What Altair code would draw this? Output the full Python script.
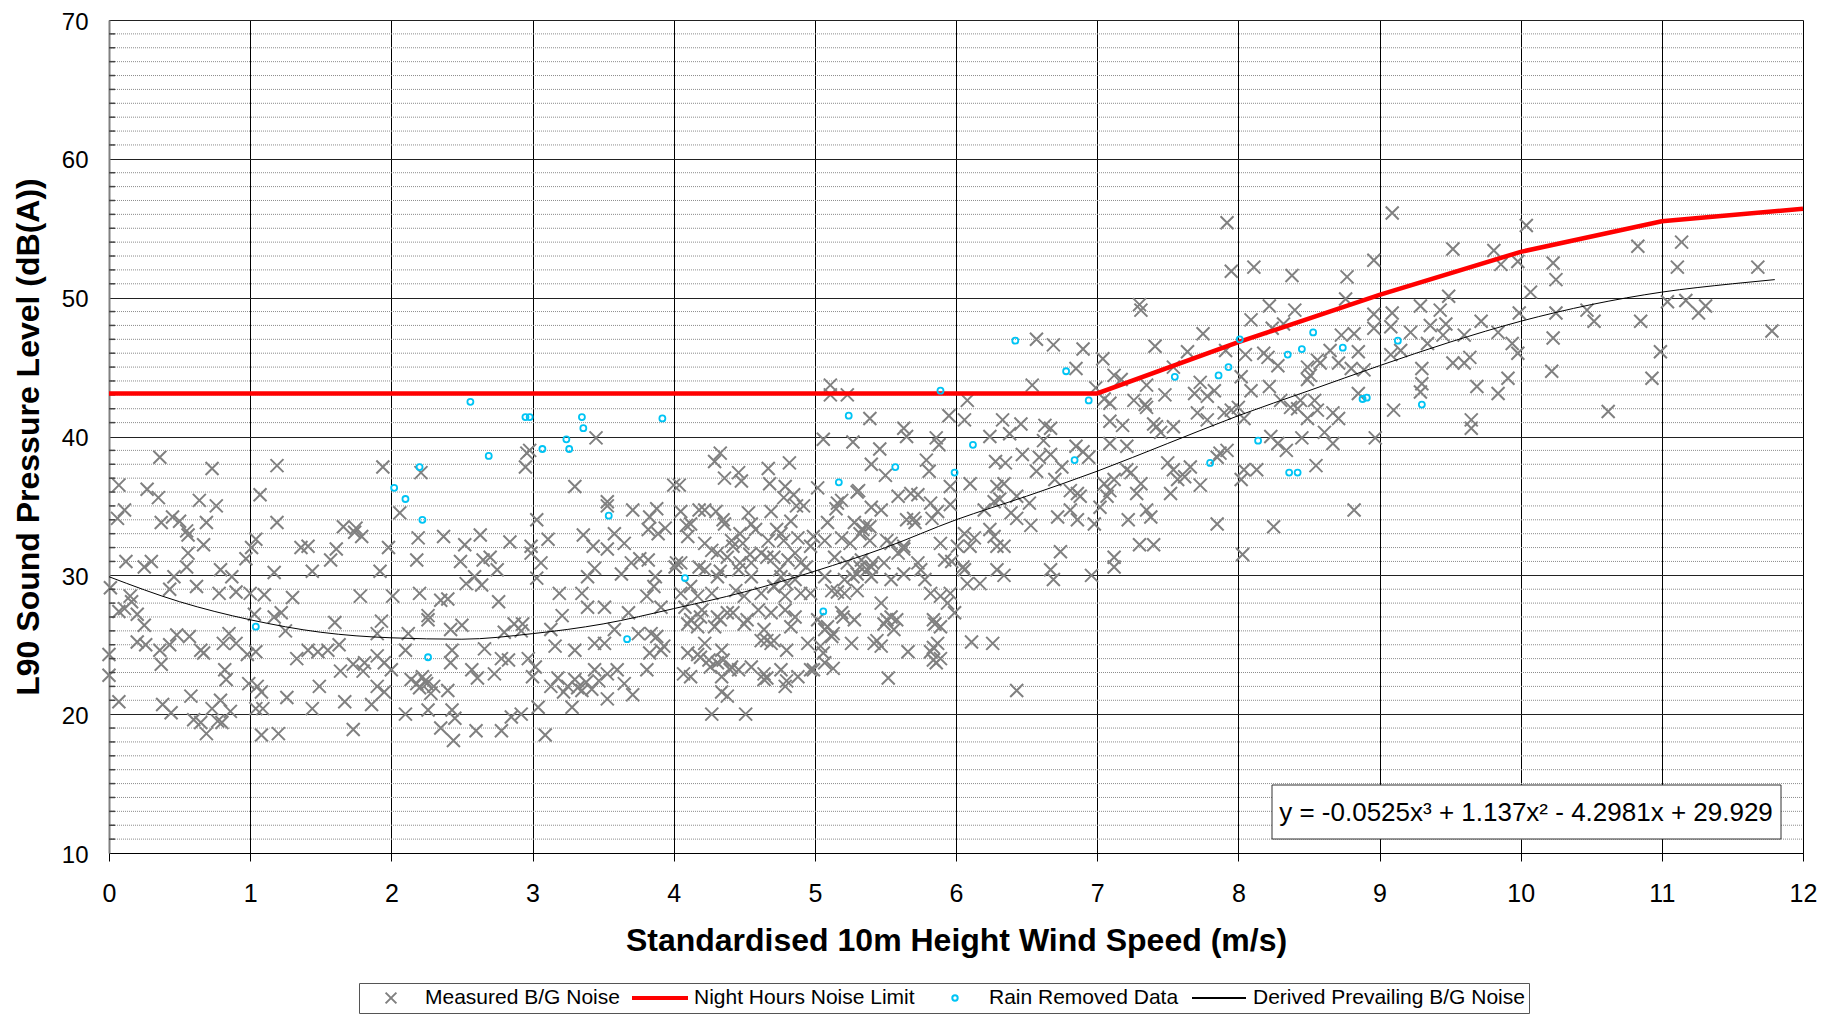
import altair as alt
import pandas as pd

S_MEAS = "Measured B/G Noise"
S_LIM = "Night Hours Noise Limit"
S_RAIN = "Rain Removed Data"
S_FIT = "Derived Prevailing B/G Noise"
SERIES = [S_MEAS, S_LIM, S_RAIN, S_FIT]

# Measured B/G noise: (wind speed m/s, L90 dB(A)) pairs
meas = [
    0.36,38.5, 0.73,37.7, 1.19,37.9, 1.94,37.8, 0.07,36.5, 0.27,36.2, 0.35,35.6, 1.07,35.8, 0.64,35.4, 0.76,35.0,
    0.11,34.7, 0.06,34.1, 0.45,34.2, 0.50,33.9, 0.37,33.8, 0.69,33.8, 1.19,33.8, 0.55,33.2, 0.56,32.9, 1.66,33.5,
    1.75,33.4, 1.79,32.8, 1.74,33.1, 1.04,32.6, 0.67,32.2, 1.36,32.0, 1.41,32.1, 1.61,31.9, 1.57,31.1, 1.01,32.0,
    0.97,31.2, 0.56,31.6, 1.98,32.0, 0.12,31.0, 0.25,30.6, 0.30,31.0, 0.55,30.6, 0.79,30.4, 0.87,29.9, 1.17,30.2,
    1.44,30.3, 1.92,30.3, 0.46,29.9, 0.43,29.0, 0.62,29.2, 0.01,29.1, 0.15,28.5, 0.16,28.1, 0.07,27.4, 0.11,27.6,
    0.20,27.2, 0.25,26.4, 0.78,28.7, 0.90,28.8, 1.00,28.7, 1.10,28.6, 1.30,28.4, 1.78,28.5, 2.01,28.5, 1.17,27.0,
    1.22,27.3, 1.03,27.2, 1.25,26.0, 1.60,26.6, 1.93,26.7, 1.90,25.8, 0.85,25.8, 0.81,25.1, 0.57,25.6, 0.48,25.7,
    0.43,25.0, 0.20,25.2, 0.26,25.0, 0.36,24.6, 0.65,24.6, 0.67,24.4, 0.90,25.1, 0.98,24.3, 1.04,24.5, 1.33,24.0,
    1.41,24.6, 1.48,24.5, 1.55,24.6, 1.63,25.0, 1.73,23.6, 1.81,23.7, 1.90,24.2, 1.95,23.7, 1.80,23.1, 2.00,23.2,
    0.37,23.6, 0.00,24.3, 0.00,22.8, 0.82,23.2, 0.83,22.5, 1.64,23.1, 0.99,22.2, 1.05,22.0, 1.08,21.6, 1.49,22.0,
    1.90,22.0, 1.95,21.6, 0.07,20.9, 0.38,20.7, 0.44,20.1, 0.58,21.3, 0.79,21.0, 0.73,20.4, 0.86,20.2, 1.04,20.4,
    1.09,20.4, 1.26,21.2, 1.44,20.4, 1.67,20.9, 1.86,20.7, 0.60,19.6, 0.65,19.4, 0.69,18.6, 0.77,19.5, 0.80,19.4,
    1.08,18.5, 1.20,18.6, 1.73,18.9,
    3.45,39.9, 2.96,38.8, 2.98,39.0, 2.95,37.8, 2.21,37.4, 3.30,36.4, 4.00,36.5, 4.04,36.5, 3.53,35.3, 3.53,35.0,
    2.06,34.5, 3.03,34.0, 3.71,34.7, 3.88,34.8, 3.83,34.2, 2.19,32.7, 2.37,32.8, 2.63,32.9, 2.52,32.2, 2.84,32.4,
    3.11,32.6, 2.99,32.1, 2.99,31.6, 3.36,32.9, 3.43,32.1, 3.53,31.9, 3.58,33.0, 3.65,32.3, 3.82,33.3, 3.89,33.0,
    3.94,33.4, 2.18,31.1, 2.49,31.0, 2.59,29.9, 2.65,31.1, 2.70,31.3, 2.75,30.4, 2.64,29.3, 2.53,29.4, 3.06,30.9,
    3.03,29.8, 3.44,30.5, 3.39,29.9, 3.63,30.1, 3.70,30.9, 3.82,31.1, 3.87,29.9, 4.01,30.6, 4.05,30.9, 2.20,28.7,
    2.35,28.2, 2.40,28.3, 2.76,28.1, 3.19,28.7, 3.21,27.1, 3.35,28.7, 3.39,27.7, 3.51,27.7, 3.68,27.3, 3.81,28.5,
    3.91,27.7, 2.26,27.1, 2.26,26.8, 2.50,26.4, 2.42,26.1, 2.12,25.8, 2.10,24.6, 2.87,26.5, 2.93,26.5, 2.92,26.0,
    2.80,25.9, 3.13,26.1, 3.16,24.9, 3.30,24.6, 3.44,25.1, 3.51,25.1, 3.58,26.1, 3.75,25.8, 3.84,25.8, 3.91,24.6,
    2.43,24.6, 2.42,23.7, 2.66,24.7, 2.78,24.0, 2.83,23.9, 2.57,23.2, 2.73,22.9, 2.61,22.6, 2.97,24.0, 3.02,23.4,
    3.00,22.7, 3.18,22.6, 3.13,22.0, 3.30,22.5, 3.35,21.7, 3.44,23.2, 3.53,22.9, 3.60,23.2, 3.65,22.2, 3.53,21.1,
    3.71,21.4, 3.28,20.5, 2.14,22.5, 2.18,22.2, 2.22,22.7, 2.25,22.2, 2.28,21.5, 2.40,21.7, 2.10,20.0, 2.26,20.3,
    2.43,20.3, 2.45,19.7, 2.35,19.0, 2.44,18.1, 2.60,18.8, 2.78,18.8, 2.85,19.8, 2.92,20.0, 3.04,20.5, 3.09,18.5,
    3.25,22.0, 3.32,21.9, 3.38,22.3, 3.42,21.8, 3.22,21.6, 3.47,22.4, 2.20,21.9, 2.24,22.4, 2.30,22.0,
    5.11,43.7, 5.11,43.0, 5.23,43.0, 6.08,42.6, 5.95,41.5, 6.06,41.2, 5.39,41.3, 5.06,39.8, 5.27,39.6, 5.46,39.1,
    5.63,40.6, 5.65,40.0, 5.86,39.9, 5.88,39.4, 5.79,38.3, 5.81,37.5, 5.40,38.0, 5.50,37.2, 4.33,38.8, 4.29,38.2,
    4.82,38.1, 4.67,37.7, 4.46,37.4, 4.48,36.8, 4.36,37.0, 4.68,36.6, 4.79,36.4, 5.02,36.3, 5.30,36.0, 5.59,35.7,
    5.68,35.9, 5.73,35.8, 5.96,36.4, 6.10,36.6, 4.78,35.6, 4.87,35.0, 4.92,35.0, 5.19,35.4, 5.15,34.8, 5.40,34.9,
    5.47,34.7, 5.82,35.2, 5.87,34.6, 5.96,35.1, 4.18,34.7, 4.22,34.7, 4.30,34.6, 4.53,34.5, 4.69,34.6, 4.12,33.7,
    4.36,33.7, 4.55,33.7, 4.73,33.3, 4.76,33.0, 4.83,33.9, 5.09,33.8, 5.28,33.8, 5.36,33.6, 5.65,34.0, 5.71,33.8,
    6.06,33.0, 6.13,32.7, 4.10,32.8, 4.22,32.3, 4.41,32.5, 4.49,32.3, 4.67,32.5, 4.88,32.7, 4.97,32.1, 5.07,32.5,
    5.19,32.7, 5.32,33.0, 5.39,32.5, 5.54,32.3, 5.63,32.1, 5.89,32.3, 6.01,32.1, 4.31,31.6, 4.38,31.3, 4.55,30.9,
    4.62,31.6, 4.71,31.3, 4.81,31.1, 4.90,30.9, 5.14,31.3, 5.23,30.9, 5.33,31.1, 5.40,30.6, 5.49,30.9, 5.59,31.6,
    5.73,30.9, 5.92,31.1, 5.97,31.0, 6.06,30.4, 4.22,30.4, 4.31,29.9, 4.46,30.4, 4.55,29.9, 4.76,29.9, 4.86,29.7,
    5.07,29.9, 5.21,29.7, 5.30,30.1, 5.40,29.9, 5.54,29.7, 5.63,30.1, 5.78,29.7, 6.08,29.4, 4.12,29.2, 4.17,28.5,
    4.27,28.7, 4.44,28.9, 4.50,28.5, 4.62,28.7, 4.71,29.2, 4.79,28.5, 4.97,28.7, 5.12,28.9, 5.21,28.7, 5.30,28.9,
    5.47,28.0, 5.82,28.7, 5.89,28.5, 5.94,28.0, 5.99,27.3, 4.08,27.7, 4.20,27.5, 4.31,27.0, 4.38,27.3, 4.60,27.5,
    4.69,27.3, 4.79,27.5, 4.86,27.0, 5.02,26.8, 5.19,27.3, 5.28,26.8, 5.54,27.0, 4.10,26.5, 4.17,26.3, 4.29,26.3,
    4.50,26.5, 4.64,26.1, 4.83,26.3, 5.07,26.1, 5.12,25.6, 5.49,26.5, 5.56,26.1, 5.85,26.5, 5.89,26.3, 4.22,25.1,
    4.34,24.6, 4.62,25.3, 4.69,25.1, 4.71,25.3, 4.80,24.6, 4.95,25.1, 5.04,24.9, 5.26,25.1, 5.42,25.1, 5.47,24.9,
    5.66,24.5, 5.82,24.5, 5.87,25.1, 6.11,25.2, 4.10,24.4, 4.17,24.3, 4.25,23.9, 4.31,23.7, 4.41,23.4, 4.46,23.2,
    4.55,23.4, 4.64,22.9, 4.64,22.5, 4.76,23.2, 4.88,22.7, 4.97,23.2, 5.07,23.7, 5.13,23.3, 5.84,23.9, 5.86,23.7,
    5.89,24.0, 4.12,22.7, 4.34,22.7, 4.38,21.3, 4.34,21.6, 4.79,22.0, 5.52,22.6, 4.27,20.0, 4.51,20.0,
    4.85,35.8, 4.05,34.6, 4.09,33.6, 4.35,34.0, 4.47,33.0, 4.58,33.3, 4.78,32.5, 4.99,32.8, 4.27,31.8, 4.42,32.1,
    4.54,31.5, 4.66,31.3, 4.86,31.6, 4.02,30.9, 4.18,30.6, 3.76,31.2, 4.33,30.3, 4.47,30.9, 4.75,30.4, 4.94,30.6,
    3.86,29.2, 4.05,28.7, 4.71,29.2, 4.80,29.4, 4.90,28.7, 4.12,26.8, 4.19,27.0, 4.33,26.8, 4.42,27.3, 4.52,26.8,
    4.66,25.3, 3.88,25.6, 3.83,24.4, 3.93,24.9, 4.19,24.1, 4.26,23.4, 4.35,23.9, 4.40,23.2, 4.07,22.9, 4.66,22.6,
    4.80,22.4, 4.99,23.2, 5.06,24.4, 5.09,26.3, 3.81,23.2,
    5.31,36.1, 6.31,35.5, 5.16,35.2, 5.70,34.1, 5.83,34.1, 5.34,33.3, 5.39,33.5, 5.25,32.3, 5.51,32.5, 5.63,31.9,
    6.10,32.1, 5.32,30.6, 5.37,30.4, 5.41,30.9, 5.27,29.9, 5.75,30.4, 6.05,30.6, 5.16,28.8, 5.96,28.7, 5.20,27.0,
    5.51,26.8, 5.58,26.8, 5.84,26.8, 5.13,25.8, 5.44,25.3, 5.84,24.8,
    7.30,49.5, 7.31,49.1, 6.57,47.0, 6.69,46.6, 6.90,46.3, 6.85,44.9, 6.54,43.7, 7.04,45.6, 6.99,43.5, 7.12,44.4,
    7.17,44.1, 7.05,42.7, 7.09,42.4, 7.26,42.6, 7.34,42.3, 7.35,43.7, 7.41,46.5, 7.48,43.0, 7.64,46.1, 7.75,47.4,
    7.54,45.0, 7.69,43.1, 7.73,43.9, 7.78,42.9, 7.83,43.3, 7.91,46.2, 8.09,48.4, 8.05,45.9, 8.18,46.0, 8.02,44.3,
    8.09,43.3, 8.00,42.1, 7.95,41.9, 7.90,41.7, 8.04,41.3, 7.71,41.7, 7.78,41.2, 7.40,40.9, 7.42,40.7, 7.45,40.3,
    7.54,40.7, 7.35,42.1, 7.09,41.1, 7.18,40.8, 6.33,41.2, 6.46,40.9, 6.63,40.8, 6.67,40.6, 6.38,40.2, 6.24,40.0,
    6.62,39.7, 7.09,39.5, 7.21,39.3, 6.85,39.3, 6.90,38.9, 6.94,38.5, 6.28,38.2, 6.35,38.1, 6.47,38.7, 6.59,38.5,
    6.67,38.7, 6.75,37.8, 6.57,37.5, 6.70,36.9, 6.81,36.1, 6.86,35.9, 6.88,35.7, 6.29,36.4, 6.34,36.6, 6.43,35.7,
    6.27,35.3, 6.52,35.2, 6.20,34.7, 6.39,34.5, 6.43,34.1, 6.53,33.6, 6.72,34.2, 6.81,34.7, 6.86,34.0, 6.98,33.7,
    7.02,34.9, 7.07,35.7, 7.09,36.1, 7.12,36.9, 7.05,36.6, 7.21,37.6, 7.24,37.4, 7.31,36.6, 7.28,35.9, 7.22,34.0,
    7.35,34.7, 7.38,34.2, 7.50,38.1, 7.54,37.6, 7.57,36.9, 7.62,37.1, 7.66,37.8, 7.52,35.9, 7.73,36.5, 7.87,38.8,
    7.92,39.0, 7.85,38.5, 8.04,37.6, 8.02,36.9, 8.13,37.6, 7.85,33.7, 6.24,33.3, 6.27,32.8, 6.29,32.1, 6.34,32.1,
    6.74,31.7, 6.17,29.4, 6.29,30.4, 6.34,30.0, 6.67,30.4, 6.69,29.7, 6.96,30.0, 7.12,31.3, 7.12,30.6, 7.30,32.2,
    7.40,32.2, 8.03,31.5, 6.26,25.1, 6.43,21.7, 7.92,55.4, 7.95,51.9, 8.11,52.2,
    9.09,56.1, 10.04,55.2, 8.96,52.7, 8.38,51.6, 8.77,51.5, 9.52,53.5, 9.81,53.4, 9.86,52.4, 9.98,52.6, 8.76,49.9,
    9.49,50.1, 10.07,50.4, 8.22,49.4, 8.40,49.1, 8.32,48.1, 8.24,47.8, 8.96,48.8, 8.96,47.8, 9.09,48.9, 9.08,47.9,
    9.29,49.4, 9.36,48.0, 9.43,49.1, 9.47,48.1, 9.45,47.3, 9.22,47.5, 9.34,46.7, 9.60,47.3, 9.72,48.3, 9.84,47.5,
    9.94,46.7, 9.99,48.9, 9.98,46.0, 9.15,46.2, 9.08,45.9, 8.73,47.3, 8.82,47.4, 8.85,46.1, 8.65,46.2, 8.71,45.3,
    8.80,44.9, 8.89,44.8, 8.56,45.5, 8.58,45.3, 8.49,45.0, 8.51,44.4, 8.49,44.1, 8.21,45.7, 8.28,45.1, 8.22,43.6,
    8.30,42.6, 8.37,42.1, 8.42,42.0, 8.44,42.6, 8.54,42.6, 8.56,41.9, 8.49,41.3, 8.61,40.3, 8.67,41.7, 8.71,41.3,
    8.67,39.5, 8.23,40.0, 8.28,39.5, 8.34,39.0, 8.45,39.9, 8.55,37.9, 8.82,34.7, 8.25,33.5, 8.85,43.1, 8.97,39.9,
    9.10,41.9, 9.30,44.9, 9.30,43.8, 9.29,43.2, 9.52,45.3, 9.60,45.3, 9.64,45.7, 9.69,43.6, 9.65,41.2, 9.65,40.6,
    9.84,43.1, 9.91,44.2, 10.22,44.7, 10.23,47.1, 10.25,51.3, 10.23,52.5,
    11.14,54.0, 10.83,53.7, 11.11,52.2, 11.68,52.2, 11.04,49.7, 11.17,49.8, 11.31,49.4, 11.26,48.9, 10.47,49.1,
    10.52,48.3, 10.85,48.3, 10.25,48.9, 11.78,47.6, 10.99,46.1, 10.93,44.2, 10.62,41.8,
]
meas_x = meas[0::2]
meas_y = meas[1::2]

# Rain removed data points
rain = [
    1.04,26.3, 2.02,36.3, 2.56,42.5, 2.95,41.4, 2.98,41.4, 3.35,41.4, 3.36,40.6, 3.24,39.8, 3.26,39.1, 3.07,39.1,
    2.69,38.6, 3.92,41.3, 2.20,37.8, 2.10,35.5, 2.22,34.0, 3.54,34.3, 4.08,29.8, 3.67,25.4, 2.26,24.1, 5.89,43.3,
    5.24,41.5, 5.57,37.8, 5.99,37.4, 6.12,39.4, 5.17,36.7, 5.06,27.4, 6.42,46.9, 6.78,44.7, 6.94,42.6, 6.84,38.3,
    7.55,44.3, 7.86,44.4, 7.93,45.0, 8.01,47.0, 7.80,38.1, 8.14,39.7, 8.53,47.5, 8.45,46.3, 8.35,45.9, 8.74,46.4,
    9.13,46.9, 8.88,42.7, 8.91,42.8, 9.30,42.3, 8.36,37.4, 8.42,37.4,
]
rain_x = rain[0::2]
rain_y = rain[1::2]

# Night hours noise limit
limit_x = [0, 7, 8, 9, 10, 11, 12]
limit_y = [43.1, 43.1, 46.8, 50.2, 53.3, 55.5, 56.4]

# Derived prevailing background noise curve
fit_x = [0, 0.5, 1, 1.5, 2, 2.5, 3, 3.5, 4, 4.5, 5, 5.5, 6, 6.5, 7, 7.5, 8, 8.5, 9, 9.5, 10, 10.5, 11, 11.5, 11.8]
fit_y = [29.9, 28.1, 26.8, 25.9, 25.5, 25.4, 25.8, 26.5, 27.6, 28.8, 30.3, 32.0, 34.0, 35.7, 37.5, 39.5, 41.5,
         43.3, 45.1, 46.8, 48.3, 49.5, 50.4, 51.0, 51.3]

x_ticks = [0, 1, 2, 3, 4, 5, 6, 7, 8, 9, 10, 11, 12]
y_ticks = [10, 20, 30, 40, 50, 60, 70]
y_minor = [v for v in range(11, 70) if v % 10 != 0]
equation = "y = -0.0525x³ + 1.137x² - 4.2981x + 29.929"

FONT = "Liberation Sans"
W, H = 1694, 833

df_meas = pd.DataFrame({"x": meas_x, "y": meas_y, "s": S_MEAS})
df_rain = pd.DataFrame({"x": rain_x, "y": rain_y, "s": S_RAIN})
df_lim = pd.DataFrame({"x": limit_x, "y": limit_y, "s": S_LIM})
df_fit = pd.DataFrame({"x": fit_x, "y": fit_y, "s": S_FIT})
df_minor = pd.DataFrame({"y": y_minor})
df_one = pd.DataFrame({"a": [0]})

PATH_X = "M-0.2,-0.2L0.2,0.2M0.2,-0.2L-0.2,0.2"
PATH_BAR = "M-1,-0.035L1,-0.035L1,0.035L-1,0.035Z"
PATH_O = "M0.1,0A0.1,0.1 0 1,1 -0.1,0A0.1,0.1 0 1,1 0.1,0"
PATH_LINE = "M-1,0L1,0"

xscale = alt.Scale(domain=[0, 12], nice=False, zero=False)
yscale = alt.Scale(domain=[10, 70], nice=False, zero=False)
color_scale = alt.Scale(domain=SERIES, range=["#808080", "#FF0000", "#00C4F4", "#000000"])
shape_scale = alt.Scale(domain=SERIES, range=[PATH_X, PATH_BAR, PATH_O, PATH_LINE])

legend = alt.Legend(
    title=None, orient="none", legendX=250, legendY=963, direction="horizontal",
    symbolSize=2916, symbolStrokeWidth=2, clipHeight=22,
    labelFont=FONT, labelFontSize=21, labelColor="black", labelOffset=6, labelLimit=0,
    columnPadding=12, padding=4, strokeColor="#555555", fillColor="white",
)

x_axis = alt.Axis(
    values=x_ticks, title="Standardised 10m Height Wind Speed (m/s)",
    labelFont=FONT, labelFontSize=25, labelColor="black", labelPadding=20, labelFlush=False,
    tickColor="black", tickSize=8, tickWidth=1, domainColor="black", domainWidth=1,
    grid=True, gridColor="black", gridWidth=1,
    titleFont=FONT, titleFontSize=32, titleFontWeight="bold", titleColor="black",
    titleX=847, titleY=97, titleBaseline="alphabetic", titleAlign="center",
)
y_axis = alt.Axis(
    values=y_ticks, title="L90 Sound Pressure Level (dB(A))",
    labelFont=FONT, labelFontSize=24, labelColor="black", labelPadding=21, labelFlush=False,
    labelOffset=2,
    ticks=False, tickSize=0, domainColor="#808080", domainWidth=2,
    grid=True, gridColor="#222222", gridWidth=1,
    titleFont=FONT, titleFontSize=32, titleFontWeight="bold", titleColor="black",
    titleAngle=270, titleX=-71, titleY=416.5, titleBaseline="alphabetic", titleAlign="center",
)

X = alt.X("x:Q", scale=xscale, axis=x_axis)
Y = alt.Y("y:Q", scale=yscale, axis=y_axis)

minor_grid = alt.Chart(df_minor).mark_rule(color="#8c8c8c", strokeWidth=1, strokeDash=[1, 1]).encode(
    y=Y, x=alt.value(0), x2=alt.value(W)
)
minor_ticks = alt.Chart(df_minor).mark_rule(color="#444444", strokeWidth=1.5).encode(
    y=Y, x=alt.value(0), x2=alt.value(6)
)

pts_meas = alt.Chart(df_meas).mark_point(filled=False, size=4225, strokeWidth=2, opacity=1).encode(
    x=X, y=Y,
    color=alt.Color("s:N", scale=color_scale, legend=legend),
    shape=alt.Shape("s:N", scale=shape_scale, legend=legend),
)
fit_line = alt.Chart(df_fit).mark_line(strokeWidth=1, interpolate="monotone").encode(
    x=X, y=Y, color=alt.Color("s:N", scale=color_scale, legend=legend),
)
lim_line = alt.Chart(df_lim).mark_line(strokeWidth=4.5).encode(
    x=X, y=Y, color=alt.Color("s:N", scale=color_scale, legend=legend),
)
pts_rain = alt.Chart(df_rain).mark_point(filled=False, size=3600, strokeWidth=1.8, opacity=1).encode(
    x=X, y=Y,
    color=alt.Color("s:N", scale=color_scale, legend=legend),
    shape=alt.Shape("s:N", scale=shape_scale, legend=legend),
)

eq_box = alt.Chart(df_one).mark_rect(fill="white", stroke="#333333", strokeWidth=1).encode(
    x=alt.value(1163), x2=alt.value(1672), y=alt.value(765), y2=alt.value(819)
)
eq_text = alt.Chart(df_one).mark_text(
    font=FONT, fontSize=26, color="black", align="center", baseline="middle"
).encode(x=alt.value(1417), y=alt.value(793), text=alt.value(equation))

chart = alt.layer(
    pts_meas, minor_grid, minor_ticks, fit_line, lim_line, pts_rain, eq_box, eq_text
).properties(
    width=W, height=H,
    autosize=alt.AutoSizeParams(type="none"),
    padding={"left": 101, "top": 12, "right": 16, "bottom": 162},
).configure_view(strokeWidth=0).configure(background="white")

chart.save("out.html", embed_options={"renderer": "svg", "actions": False})
